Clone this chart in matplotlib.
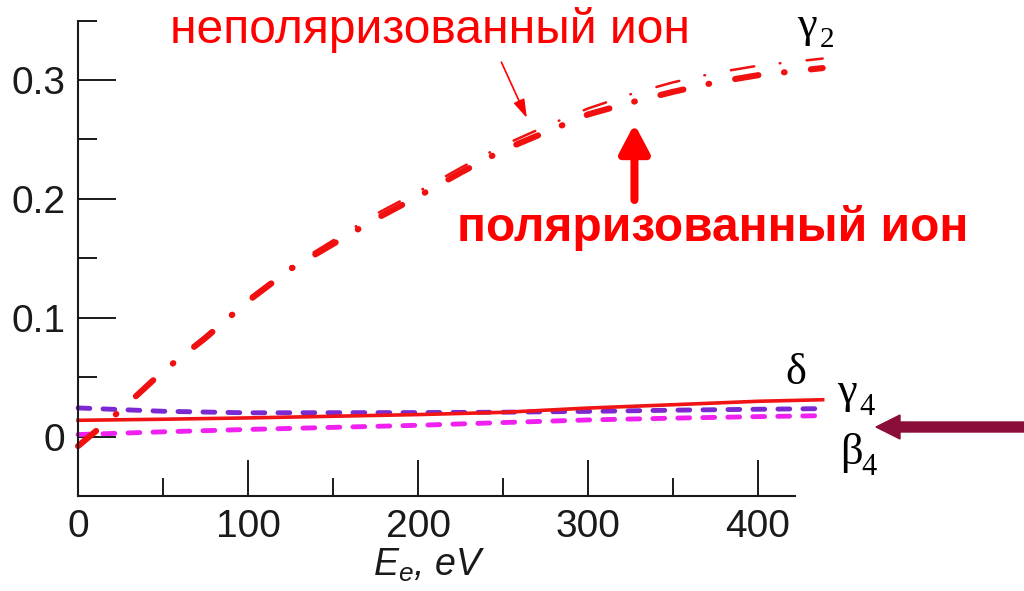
import matplotlib
matplotlib.use("Agg")
import matplotlib.pyplot as plt
from matplotlib.ticker import MultipleLocator

plt.rcParams["font.family"] = ["Liberation Sans", "DejaVu Sans"]
plt.rcParams["lines.scale_dashes"] = False
plt.rcParams["mathtext.fontset"] = "custom"
plt.rcParams["mathtext.it"] = "Liberation Sans:italic"
plt.rcParams["mathtext.rm"] = "Liberation Sans"

# gamma2, dash-dot curves
energy = [0, 25, 50, 75, 100, 125, 150, 175, 200, 225, 250, 275, 300, 325, 350, 375, 400, 438]
gamma2_pol = [-0.008, 0.022, 0.055, 0.083, 0.114, 0.141, 0.162, 0.183, 0.202, 0.222, 0.241, 0.256,
              0.271, 0.281, 0.290, 0.298, 0.304, 0.310]
gamma2_unpol = [-0.008, 0.022, 0.056, 0.085, 0.116, 0.143, 0.165, 0.187, 0.206, 0.226, 0.245, 0.261,
                0.276, 0.288, 0.298, 0.306, 0.312, 0.318]

# small parameters
energy_s = [0, 50, 100, 200, 250, 300, 350, 400, 438]
delta = [0.0137, 0.0146, 0.0157, 0.0185, 0.0204, 0.0240, 0.0268, 0.0297, 0.0310]
gamma4 = [0.0241, 0.0213, 0.0200, 0.0202, 0.0205, 0.0212, 0.0222, 0.0230, 0.0235]
beta4 = [0.0017, 0.0040, 0.0060, 0.0095, 0.0118, 0.0140, 0.0155, 0.0168, 0.0176]

fig = plt.figure(figsize=(10.24, 5.91), dpi=100)
ax = fig.add_axes([0.0762, 0.1607, 0.7305, 0.8046])

dashdot = (0, (17, 18.5, 0.5, 19))
dash = (0, (8.5, 9.5))

ax.plot(energy_s, gamma4, color="#7a2ad0", lw=3.5, ls=dash, dash_capstyle="round", clip_on=False)
ax.plot(energy_s, beta4, color="#f020f0", lw=3.5, ls=dash, dash_capstyle="round", clip_on=False)
ax.plot(energy_s, delta, color="#f01414", lw=2.6, clip_on=False)
ax.plot(energy, gamma2_pol, color="#f01010", lw=4.4, ls=dashdot, dash_capstyle="round", clip_on=False)
ax.plot(energy, gamma2_unpol, color="#f01010", lw=1.8, ls=dashdot, dash_capstyle="round", clip_on=False)

ax.set_xlim(0, 440)
ax.set_ylim(-0.05, 0.35)
ax.spines["top"].set_visible(False)
ax.spines["right"].set_visible(False)
ax.spines["bottom"].set_bounds(0, 422)
for s in ["left", "bottom"]:
    ax.spines[s].set_linewidth(1.5)
    ax.spines[s].set_color("#1a1a1a")

ax.set_xticks([0, 100, 200, 300, 400])
ax.xaxis.set_minor_locator(MultipleLocator(50))
ax.set_yticks([0, 0.1, 0.2, 0.3])
ax.set_yticklabels(["0", "0.1", "0.2", "0.3"])
ax.yaxis.set_minor_locator(MultipleLocator(0.05))
ax.tick_params(which="both", direction="in", width=1.4, color="#1a1a1a", labelsize=28,
               labelcolor="#1a1a1a")
ax.tick_params(axis="x", which="major", length=26, pad=9)
ax.tick_params(axis="x", which="minor", length=13)
ax.tick_params(axis="y", which="major", length=27, pad=9)
ax.tick_params(axis="y", which="minor", length=14)

ax.set_xlabel(r"$E_e$, $eV$", fontsize=27, style="italic", color="#1a1a1a", ha="left", va="baseline")
ax.xaxis.set_label_coords(0.394, -0.168)

# curve labels
serif = ["Liberation Serif", "DejaVu Serif"]
ax.text(423.0, 0.336, "γ", family=serif, fontsize=32, va="baseline", clip_on=False)
ax.text(436.0, 0.3277, "2", family=serif, fontsize=21, va="baseline", clip_on=False)
ax.text(415.8, 0.044, "δ", family=serif, fontsize=32, va="baseline", clip_on=False)
ax.text(446.5, 0.0286, "γ", family=serif, fontsize=32, va="baseline", clip_on=False)
ax.text(459.5, 0.0185, "4", family=serif, fontsize=22, va="baseline", clip_on=False)
ax.text(448.5, -0.0227, "β", family=serif, fontsize=32, va="baseline", clip_on=False)
ax.text(461.0, -0.0319, "4", family=serif, fontsize=22, va="baseline", clip_on=False)

# annotations
ax.text(207, 0.342, "неполяризованный ион", color="#ff0000", fontsize=34.5, ha="center", va="center",
        clip_on=False)
ax.annotate("", xy=(264, 0.268), xytext=(249, 0.315),
            arrowprops=dict(arrowstyle="-|>,head_width=0.25,head_length=0.8", color="#ff0000",
                            lw=1.2, mutation_scale=14, shrinkA=0, shrinkB=0))
ax.text(373.6, 0.1756, "поляризованный ион", color="#ff0000", fontsize=34.5, fontweight="bold",
        ha="center", va="center", clip_on=False)
ax.annotate("", xy=(327.3, 0.263), xytext=(327.3, 0.199),
            arrowprops=dict(arrowstyle="-|>,head_width=0.45,head_length=0.85", color="#ff0000",
                            lw=5.8, mutation_scale=20, shrinkA=0, shrinkB=0))
fig.patches.append(matplotlib.patches.FancyArrow(
    1024, 164, -124, 0, width=10, head_width=24, head_length=24,
    length_includes_head=False, color="#8b0d3a", transform=None, figure=fig))

fig.savefig("out.png", dpi=100)
